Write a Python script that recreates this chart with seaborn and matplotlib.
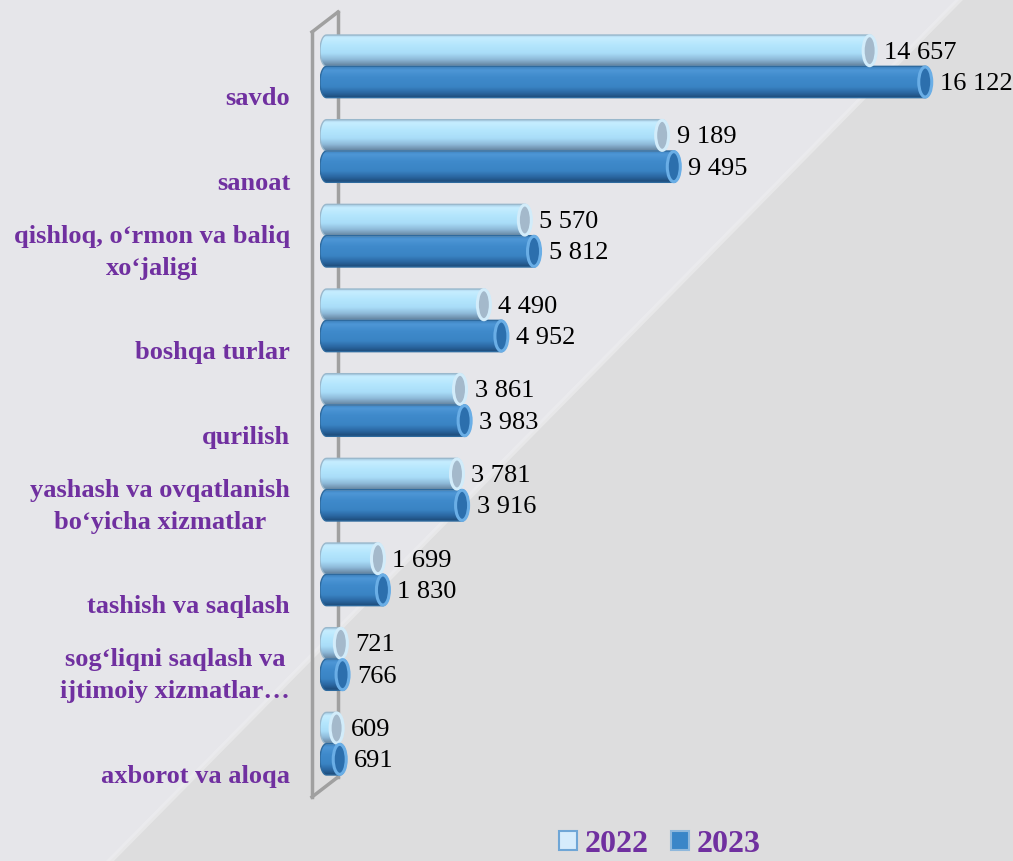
import numpy as np
import pandas as pd
import matplotlib
matplotlib.use("Agg")
import matplotlib.pyplot as plt
import seaborn as sns
from matplotlib.path import Path
from matplotlib.patches import PathPatch, Ellipse, Polygon, Patch
from matplotlib.colors import LinearSegmentedColormap
from matplotlib.lines import Line2D

# ---------------- data ----------------
categories = [
    "savdo",
    "sanoat",
    "qishloq, o‘rmon va baliq\nxo‘jaligi",
    "boshqa turlar",
    "qurilish",
    "yashash va ovqatlanish\nbo‘yicha xizmatlar",
    "tashish va saqlash",
    "sog‘liqni saqlash va\nijtimoiy xizmatlar…",
    "axborot va aloqa",
]
years = ["2022", "2023"]
values_2022 = [14657, 9189, 5570, 4490, 3861, 3781, 1699, 721, 609]
values_2023 = [16122, 9495, 5812, 4952, 3983, 3916, 1830, 766, 691]

df = pd.DataFrame({
    "category": categories * 2,
    "year": [years[0]] * len(categories) + [years[1]] * len(categories),
    "value": values_2022 + values_2023,
})

# ---------------- style ----------------
plt.rcParams["font.family"] = ["Liberation Serif", "DejaVu Serif"]
PURPLE = "#7030A0"
W, H, DPI = 1013, 862, 100

fig = plt.figure(figsize=(W / DPI, H / DPI), dpi=DPI)
fig.patch.set_facecolor("#E6E6EA")
# background: slightly darker right region and soft light diagonal streak
fig.add_artist(Polygon([(110 / W, 0), (960 / W, 1), (1, 1), (1, 0)],
                       closed=True, transform=fig.transFigure,
                       facecolor="#DDDDDE", edgecolor="none", zorder=-2))
fig.add_artist(Line2D([110 / W, 960 / W], [0, 1], transform=fig.transFigure,
                      color="#EEEEF0", lw=4, alpha=0.6, zorder=-1))

ax_left, ax_right, ax_top, ax_bottom = 320, 1003, 25, 787
ax = fig.add_axes([ax_left / W, 1 - ax_bottom / H,
                   (ax_right - ax_left) / W, (ax_bottom - ax_top) / H])
ax.set_facecolor("none")

palette = {"2022": "#A9DCF8", "2023": "#3A86C8"}
sns.barplot(data=df, y="category", x="value", hue="year", hue_order=years,
            order=categories, orient="h", palette=palette, width=0.74,
            ax=ax, legend=False)

XMAX = 18000
ax.set_xlim(0, XMAX)
ax.set_ylim(len(categories) - 0.5, -0.5)
for s in ax.spines.values():
    s.set_visible(False)
ax.set_xticks([])
ax.set_yticks([])
ax.set_xlabel("")
ax.set_ylabel("")

px_per_unit = (ax_right - ax_left) / XMAX
rx = 6.5 / px_per_unit  # cylinder cap half-width in data units

light_cmap = LinearSegmentedColormap.from_list(
    "light", [(0.0, "#9FC4DE"), (0.1, "#C6EDFF"), (0.35, "#B4E6FD"),
              (0.6, "#A9DDF8"), (0.8, "#8EB9D8"), (1.0, "#62809C")])
dark_cmap = LinearSegmentedColormap.from_list(
    "dark", [(0.0, "#3A7DBB"), (0.12, "#4E97D6"), (0.35, "#3F8ACB"),
             (0.65, "#3A84C4"), (0.85, "#2A66A0"), (1.0, "#1D4A78")])
styles = {
    "2022": dict(cmap=light_cmap, cap_face="#A4B9CB", cap_edge="#D2ECFA",
                 edge="#9AB8CC"),
    "2023": dict(cmap=dark_cmap, cap_face="#2C6FAD", cap_edge="#6AAEE6",
                 edge="#2E6A9E"),
}

grad = np.linspace(0, 1, 64).reshape(-1, 1)
patches = list(ax.patches)
n = len(categories)
for k, p in enumerate(patches):
    yr = years[k // n]
    st = styles[yr]
    x0 = p.get_x()
    x1 = p.get_x() + p.get_width()
    y0 = p.get_y()
    h = p.get_height()
    y1 = y0 + h
    yc = y0 + h / 2
    p.set_visible(False)

    cl = x0 + rx
    ce = max(x1 - rx, cl + 1e-6)
    tl = np.linspace(-np.pi / 2, -3 * np.pi / 2, 30)
    tr = np.linspace(np.pi / 2, -np.pi / 2, 30)
    left = np.column_stack([cl + rx * np.cos(tl), yc + h / 2 * np.sin(tl)])
    right = np.column_stack([ce + rx * np.cos(tr), yc + h / 2 * np.sin(tr)])
    verts = np.vstack([left, right, left[:1]])
    path = Path(verts)
    clip = PathPatch(path, transform=ax.transData, facecolor="none",
                     edgecolor="none")
    ax.add_patch(clip)
    im = ax.imshow(grad, extent=(x0, x1, y1, y0), origin="upper",
                   aspect="auto", cmap=st["cmap"], zorder=3,
                   interpolation="bilinear")
    im.set_clip_path(clip)
    ax.add_patch(PathPatch(path, facecolor="none", edgecolor=st["edge"],
                           lw=1.0, zorder=4))
    ax.add_patch(Ellipse((ce, yc), 2 * rx, h * 0.96, facecolor=st["cap_face"],
                         edgecolor=st["cap_edge"], lw=2.2, zorder=5))
    val = p.get_width()
    ax.annotate(f"{val:,.0f}".replace(",", " "), xy=(x1, yc),
                xytext=(8, -1), textcoords="offset pixels",
                ha="left", va="center", fontsize=19, color="black",
                zorder=6)

ax.set_xlim(0, XMAX)
ax.set_ylim(len(categories) - 0.5, -0.5)

# category labels
for i, c in enumerate(categories):
    ax.annotate(c, xy=(0, i), xycoords=("axes fraction", "data"),
                xytext=(-30, -43), textcoords="offset pixels",
                ha="right", va="bottom", multialignment="center",
                fontsize=19, fontweight="bold", color=PURPLE,
                linespacing=1.5, annotation_clip=False)

# 3D wall outline
wall = "#A0A0A0"
aw = ax_right - ax_left
ah = ax_bottom - ax_top
def fx(px):
    return (px - ax_left) / aw
def fy(py):
    return 1 - (py - ax_top) / ah
ax.plot([fx(312), fx(312)], [fy(33), fy(798)], transform=ax.transAxes,
        color=wall, lw=2.5, clip_on=False, zorder=1)
ax.plot([fx(312), fx(338)], [fy(33), fy(13)], transform=ax.transAxes,
        color=wall, lw=2.5, clip_on=False, zorder=1)
ax.plot([fx(338), fx(338)], [fy(13), fy(778)], transform=ax.transAxes,
        color=wall, lw=2.5, clip_on=False, zorder=1)
ax.plot([fx(312), fx(338)], [fy(798), fy(778)], transform=ax.transAxes,
        color=wall, lw=2.5, clip_on=False, zorder=1)

# legend
handles = [Patch(facecolor="#D6ECFC", edgecolor="#6FA6D6", lw=1.5),
           Patch(facecolor="#3A86C8", edgecolor="#8FB8DC", lw=1.5)]
leg = fig.legend(handles, years, loc="center", ncol=2,
                 bbox_to_anchor=(660 / W, 1 - 845 / H), frameon=False,
                 handlelength=0.55, handleheight=0.55, handletextpad=0.25,
                 columnspacing=0.7, borderpad=0.1,
                 prop=dict(family="Liberation Serif", weight="bold", size=23))
for t in leg.get_texts():
    t.set_color(PURPLE)

fig.savefig("out.png", dpi=DPI, facecolor=fig.get_facecolor())
